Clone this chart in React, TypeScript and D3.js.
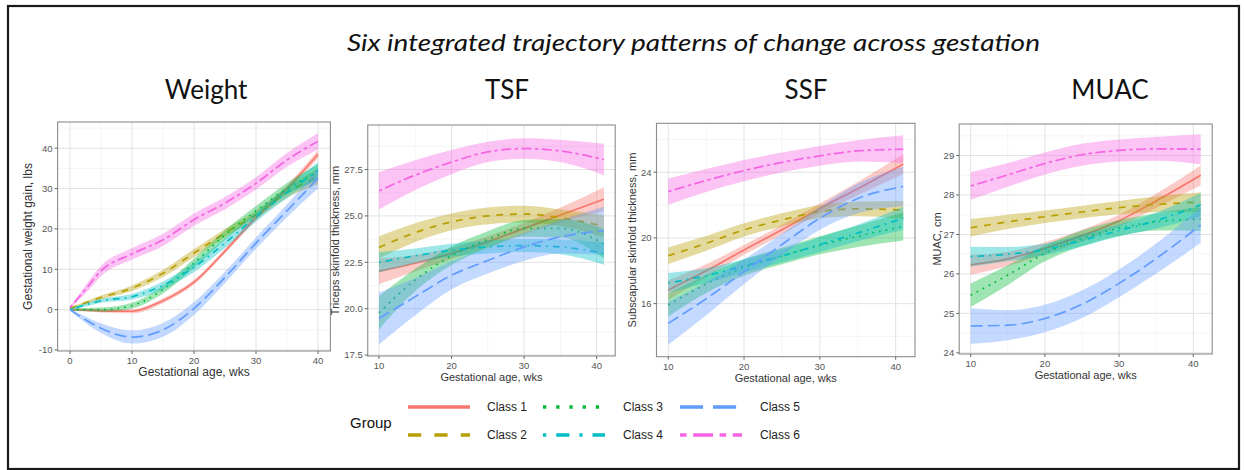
import React from "react";
import * as d3 from "d3";

// ---------- data ----------
const classNames = ["Class 1", "Class 2", "Class 3", "Class 4", "Class 5", "Class 6"];
const classColors = ["#F8766D", "#B79F00", "#00BA38", "#00BFC4", "#619CFF", "#F564E3"];
const classLinetypes = ["", "44", "13", "1343", "73", "2262"];

const panelTitles = ["Weight", "TSF", "SSF", "MUAC"];
const yAxisTitles = [
  "Gestational weight gain, lbs",
  "Triceps skinfold thickness, mm",
  "Subscapular skinfold thickness, mm",
  "MUAC, cm",
];
const xAxisTitle = "Gestational age, wks";
const chartTitle = "Six integrated trajectory patterns of change across gestation";

// Weight panel
const weightAge = [0, 2.5, 5, 10, 15, 20, 25, 30, 35, 40];
const weightMean = [
  [0, -0.1, -0.3, -0.4, 2.2, 6.8, 14.5, 22.8, 30, 38.5],
  [0.3, 1.7, 3.0, 5.3, 9, 14, 19, 23.5, 29, 33],
  [0, 0, 0, 1, 5, 11.5, 18.5, 24.5, 30, 34],
  [0, 1.2, 2.2, 3.2, 6, 10.5, 16.5, 23, 29, 34.5],
  [0, -2.5, -4.6, -6.8, -5, 0.3, 8, 16.5, 24.5, 32.5],
  [0.5, 5, 9.6, 13.8, 17.3, 22.3, 26.4, 31.3, 37.1, 41.7],
];
const weightHalf = [
  [0.3, 0.3, 0.4, 0.5, 0.6, 0.6, 0.6, 0.7, 0.8, 1.0],
  [0.3, 0.4, 0.5, 0.7, 0.9, 1, 1, 1, 1.3, 2],
  [0.3, 0.4, 0.5, 0.7, 1, 1.2, 1.2, 1.2, 1.4, 2],
  [0.3, 0.4, 0.5, 0.7, 1, 1.2, 1.2, 1.2, 1.4, 2],
  [0.3, 0.8, 1.2, 1.6, 1.7, 1.6, 1.4, 1.4, 1.6, 2.5],
  [0.3, 1, 1.3, 1.4, 1.5, 1.5, 1.5, 1.5, 1.7, 2],
];

// Skinfold / MUAC panels
const laterAge = [10, 15, 20, 25, 30, 35, 41];

const tsfMean = [
  [22.02, 22.45, 22.98, 23.6, 24.33, 25.05, 25.9],
  [23.3, 24.1, 24.68, 25.0, 25.1, 24.9, 24.45],
  [19.78, 21.55, 22.85, 23.73, 24.33, 24.33, 23.5],
  [22.5, 22.85, 23.15, 23.33, 23.4, 23.33, 22.97],
  [19.47, 20.65, 21.8, 22.6, 23.33, 23.87, 24.2],
  [26.35, 27.2, 27.9, 28.45, 28.63, 28.5, 28.04],
];
const tsfHalf = [
  [0.7, 0.45, 0.3, 0.3, 0.3, 0.4, 0.65],
  [0.6, 0.5, 0.45, 0.45, 0.45, 0.45, 0.6],
  [0.9, 0.6, 0.5, 0.45, 0.45, 0.5, 0.8],
  [0.55, 0.4, 0.35, 0.35, 0.35, 0.4, 0.6],
  [1.4, 1.0, 0.75, 0.7, 0.75, 0.9, 1.3],
  [1.0, 0.8, 0.65, 0.55, 0.55, 0.6, 0.85],
];

const ssfMean = [
  [16.83, 18.0, 19.27, 20.5, 21.8, 23.0, 24.49],
  [18.92, 19.67, 20.49, 21.1, 21.6, 21.77, 21.7],
  [15.92, 17.2, 18.2, 18.9, 19.55, 20.1, 20.7],
  [17.26, 17.7, 18.3, 18.9, 19.6, 20.3, 21.2],
  [14.8, 16.3, 17.95, 19.6, 21.2, 22.4, 23.13],
  [22.82, 23.5, 24.1, 24.6, 25.0, 25.3, 25.4],
];
const ssfHalf = [
  [0.6, 0.4, 0.3, 0.3, 0.3, 0.4, 0.6],
  [0.5, 0.45, 0.4, 0.4, 0.4, 0.45, 0.55],
  [0.7, 0.55, 0.5, 0.5, 0.55, 0.65, 0.85],
  [0.6, 0.45, 0.4, 0.4, 0.45, 0.5, 0.7],
  [1.3, 1.0, 0.75, 0.65, 0.7, 0.9, 1.2],
  [0.8, 0.7, 0.65, 0.6, 0.6, 0.65, 0.85],
];

const muacMean = [
  [26.23, 26.38, 26.65, 26.97, 27.35, 27.85, 28.5],
  [27.17, 27.32, 27.45, 27.57, 27.68, 27.76, 27.82],
  [25.46, 25.97, 26.52, 26.9, 27.16, 27.32, 27.39],
  [26.44, 26.5, 26.62, 26.85, 27.1, 27.35, 27.75],
  [24.68, 24.7, 24.87, 25.23, 25.76, 26.39, 27.24],
  [28.23, 28.51, 28.8, 29.02, 29.13, 29.17, 29.16],
];
const muacHalf = [
  [0.25, 0.18, 0.15, 0.15, 0.15, 0.18, 0.25],
  [0.22, 0.18, 0.16, 0.16, 0.17, 0.2, 0.25],
  [0.3, 0.25, 0.2, 0.2, 0.2, 0.22, 0.3],
  [0.25, 0.18, 0.15, 0.15, 0.15, 0.2, 0.3],
  [0.45, 0.38, 0.35, 0.35, 0.35, 0.38, 0.45],
  [0.35, 0.3, 0.28, 0.28, 0.28, 0.3, 0.38],
];

const weightXTicks = [0, 10, 20, 30, 40];
const weightXMinor = [5, 15, 25, 35];
const weightYTicks = [-10, 0, 10, 20, 30, 40];
const weightYMinor = [-5, 5, 15, 25, 35, 45];
const laterXTicks = [10, 20, 30, 40];
const laterXMinor = [15, 25, 35];
const tsfYTicks = [17.5, 20, 22.5, 25, 27.5];
const tsfYMinor = [18.75, 21.25, 23.75, 26.25, 28.75];
const ssfYTicks = [16, 20, 24];
const ssfYMinor = [14, 18, 22, 26];
const muacYTicks = [24, 25, 26, 27, 28, 29];
const muacYMinor = [24.5, 25.5, 26.5, 27.5, 28.5, 29.5];

// ---------- layout ----------
const panels = [
  {
    age: weightAge, mean: weightMean, half: weightHalf,
    xDomain: [-2, 42], yDomain: [-10.25, 46.5],
    rect: { l: 57.6, r: 330.4, t: 122, b: 351 },
    xTicks: weightXTicks, xMinor: weightXMinor, yTicks: weightYTicks, yMinor: weightYMinor,
    titleX: 206, yTitleX: 29, axisFont: 12, fmt: (v: number) => String(v),
  },
  {
    age: laterAge, mean: tsfMean, half: tsfHalf,
    xDomain: [8.45, 42.55], yDomain: [17.45, 29.9],
    rect: { l: 367.75, r: 615.2, t: 125, b: 356 },
    xTicks: laterXTicks, xMinor: laterXMinor, yTicks: tsfYTicks, yMinor: tsfYMinor,
    titleX: 507, yTitleX: 336, axisFont: 11, fmt: (v: number) => v.toFixed(1),
  },
  {
    age: laterAge, mean: ssfMean, half: ssfHalf,
    xDomain: [8.45, 42.55], yDomain: [12.77, 26.98],
    rect: { l: 656.5, r: 915, t: 123.3, b: 356.7 },
    xTicks: laterXTicks, xMinor: laterXMinor, yTicks: ssfYTicks, yMinor: ssfYMinor,
    titleX: 806, yTitleX: 633, axisFont: 11, fmt: (v: number) => String(v),
  },
  {
    age: laterAge, mean: muacMean, half: muacHalf,
    xDomain: [8.45, 42.55], yDomain: [23.97, 29.8],
    rect: { l: 959.2, r: 1212.2, t: 124, b: 354 },
    xTicks: laterXTicks, xMinor: laterXMinor, yTicks: muacYTicks, yMinor: muacYMinor,
    titleX: 1110, yTitleX: 938, axisFont: 11, fmt: (v: number) => String(v),
  },
];

const dash = (pattern: string, lwd: number) =>
  pattern ? pattern.split("").map((c) => parseInt(c, 16) * lwd).join(" ") : undefined;

const AXIS_FONT = "'Liberation Sans', Arial, Helvetica, sans-serif";
const TITLE_FONT = "Lato, 'Open Sans', sans-serif";

function Panel({ p }: { p: (typeof panels)[number] }) {
  const { rect } = p;
  const x = d3.scaleLinear().domain(p.xDomain).range([rect.l, rect.r]);
  const y = d3.scaleLinear().domain(p.yDomain).range([rect.b, rect.t]);
  const clipId = `clip-${p.titleX}`;
  const lwd = 1.7;
  return (
    <g>
      <defs>
        <clipPath id={clipId}>
          <rect x={rect.l} y={rect.t} width={rect.r - rect.l} height={rect.b - rect.t} />
        </clipPath>
      </defs>
      <rect x={rect.l} y={rect.t} width={rect.r - rect.l} height={rect.b - rect.t} fill="#fff" />
      {p.xMinor.map((v) => (
        <line key={"xm" + v} x1={x(v)} x2={x(v)} y1={rect.t} y2={rect.b} stroke="#f0f0f0" strokeWidth={0.7} />
      ))}
      {p.yMinor.map((v) => (
        <line key={"ym" + v} x1={rect.l} x2={rect.r} y1={y(v)} y2={y(v)} stroke="#f0f0f0" strokeWidth={0.7} />
      ))}
      {p.xTicks.map((v) => (
        <line key={"xg" + v} x1={x(v)} x2={x(v)} y1={rect.t} y2={rect.b} stroke="#e2e2e2" strokeWidth={1} />
      ))}
      {p.yTicks.map((v) => (
        <line key={"yg" + v} x1={rect.l} x2={rect.r} y1={y(v)} y2={y(v)} stroke="#e2e2e2" strokeWidth={1} />
      ))}
      <g clipPath={`url(#${clipId})`}>
        {p.mean.map((m, i) => {
          const pts = p.age.map((a, k) => ({ a, m: m[k], h: p.half[i][k] }));
          const area = d3
            .area<{ a: number; m: number; h: number }>()
            .x((d) => x(d.a))
            .y0((d) => y(d.m - d.h))
            .y1((d) => y(d.m + d.h))
            .curve(d3.curveMonotoneX);
          const line = d3
            .line<{ a: number; m: number; h: number }>()
            .x((d) => x(d.a))
            .y((d) => y(d.m))
            .curve(d3.curveMonotoneX);
          return (
            <g key={i}>
              <path d={area(pts) || ""} fill={classColors[i]} fillOpacity={0.38} stroke="none" />
              <path
                d={line(pts) || ""}
                fill="none"
                stroke={classColors[i]}
                strokeWidth={lwd}
                strokeDasharray={dash(classLinetypes[i], lwd)}
              />
            </g>
          );
        })}
      </g>
      <rect
        x={rect.l}
        y={rect.t}
        width={rect.r - rect.l}
        height={rect.b - rect.t}
        fill="none"
        stroke="#8c8c8c"
        strokeWidth={1.1}
      />
      {p.xTicks.map((v) => (
        <g key={"xt" + v}>
          <line x1={x(v)} x2={x(v)} y1={rect.b} y2={rect.b + 3} stroke="#666" strokeWidth={1} />
          <text
            x={x(v)}
            y={rect.b + 13}
            textAnchor="middle"
            fontSize={9.5}
            fill="#555"
            fontFamily={AXIS_FONT}
          >
            {v}
          </text>
        </g>
      ))}
      {p.yTicks.map((v) => (
        <g key={"yt" + v}>
          <line x1={rect.l - 3} x2={rect.l} y1={y(v)} y2={y(v)} stroke="#666" strokeWidth={1} />
          <text
            x={rect.l - 5}
            y={y(v) + 3.3}
            textAnchor="end"
            fontSize={9.5}
            fill="#555"
            fontFamily={AXIS_FONT}
          >
            {p.fmt(v)}
          </text>
        </g>
      ))}
      <text
        x={(rect.l + rect.r) / 2}
        y={rect.b + 25}
        textAnchor="middle"
        fontSize={p.axisFont}
        fill="#333"
        fontFamily={AXIS_FONT}
      >
        {xAxisTitle}
      </text>
    </g>
  );
}

export default function App() {
  const legendCols = [
    { keyX: 408, labelX: 487 },
    { keyX: 543, labelX: 623 },
    { keyX: 680, labelX: 760 },
  ];
  const legendRows = [407, 435];
  const keyW = 62;
  const legLwd = 3.3;
  return (
    <svg
      width={1244}
      height={470}
      style={{ position: "absolute", left: 0, top: 0, background: "#fff" }}
    >
      <rect x={0} y={0} width={1244} height={470} fill="#fff" />
      <rect x={8} y={6} width={1231} height={463} fill="none" stroke="#1a1a1a" strokeWidth={2.2} />
      <text
        x={693.5}
        y={51}
        textAnchor="middle"
        fontSize={24}
        fontStyle="italic"
        fontFamily={TITLE_FONT}
        fill="#111"
        textLength={693}
        lengthAdjust="spacingAndGlyphs"
      >
        {chartTitle}
      </text>
      {panels.map((p, i) => (
        <g key={i}>
          <text
            x={p.titleX}
            y={99}
            textAnchor="middle"
            fontSize={26}
            fontFamily={TITLE_FONT}
            fill="#111"
          >
            {panelTitles[i]}
          </text>
          <text
            transform={`translate(${p.yTitleX},${(p.rect.t + p.rect.b) / 2}) rotate(-90)`}
            textAnchor="middle"
            dominantBaseline="middle"
            fontSize={p.axisFont}
            fill="#333"
            fontFamily={AXIS_FONT}
          >
            {yAxisTitles[i]}
          </text>
          <Panel p={p} />
        </g>
      ))}
      <text x={350} y={428} fontSize={15} fontFamily={AXIS_FONT} fill="#111">
        Group
      </text>
      {classNames.map((name, i) => {
        const col = legendCols[Math.floor(i / 2)];
        const ry = legendRows[i % 2];
        return (
          <g key={name}>
            <line
              x1={col.keyX}
              x2={col.keyX + keyW}
              y1={ry}
              y2={ry}
              stroke={classColors[i]}
              strokeWidth={legLwd}
              strokeDasharray={dash(classLinetypes[i], legLwd)}
            />
            <text x={col.labelX} y={ry + 4.3} fontSize={12} fontFamily={AXIS_FONT} fill="#222">
              {name}
            </text>
          </g>
        );
      })}
    </svg>
  );
}
